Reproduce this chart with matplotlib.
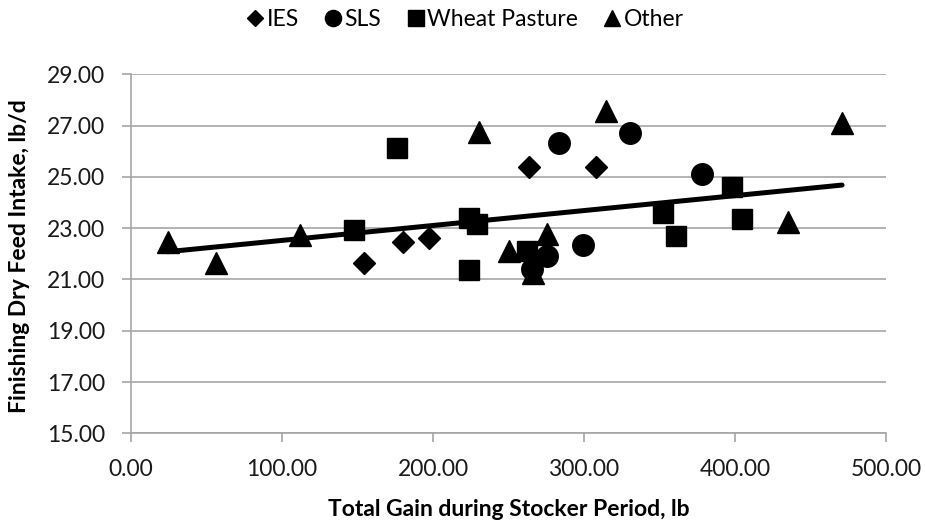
import numpy as np
import matplotlib
matplotlib.use("Agg")
import matplotlib.pyplot as plt

# Total gain during stocker period (lb) and finishing dry feed intake (lb/d)
ies_gain = [154.3, 180.4, 197.4, 263.6, 307.7]
ies_dmi = [21.65, 22.47, 22.60, 25.40, 25.40]

sls_gain = [283.7, 330.5, 378.3, 275.5, 265.5, 299.6]
sls_dmi = [26.31, 26.70, 25.11, 21.93, 21.40, 22.34]

wheat_gain = [147.7, 175.9, 224.1, 229.4, 224.1, 262.2, 352.1, 360.9, 398.2, 404.8]
wheat_dmi = [22.93, 26.12, 23.39, 23.15, 21.37, 22.10, 23.58, 22.71, 24.62, 23.36]

other_gain = [24.2, 56.3, 111.9, 230.5, 250.5, 275.3, 266.5, 314.3, 435.3, 470.9]
other_dmi = [22.47, 21.63, 22.73, 26.76, 22.12, 22.77, 21.27, 27.58, 23.23, 27.11]

# Linear trendline: intake = trend_intercept + trend_slope * gain
trend_slope = 0.00582
trend_intercept = 21.94

x_ticks = [0, 100, 200, 300, 400, 500]
y_ticks = [15, 17, 19, 21, 23, 25, 27, 29]

FONT = "Lato"
plt.rcParams["font.family"] = [FONT, "DejaVu Sans"]

fig = plt.figure(figsize=(9.25, 5.23), dpi=100)
ax = fig.add_axes([131 / 925, 1 - 433.3 / 523, 755 / 925, 359 / 523])

grid_c = "#a6a6a6"
ax.set_xlim(0, 500)
ax.set_ylim(15, 29)
ax.set_xticks(x_ticks)
ax.set_yticks(y_ticks)
ax.set_xticklabels([f"{v:.2f}" for v in x_ticks])
ax.set_yticklabels([f"{v:.2f}" for v in y_ticks])
ax.yaxis.grid(True, color=grid_c, linewidth=1.2)
ax.set_axisbelow(True)
for side in ("top", "right"):
    ax.spines[side].set_visible(False)
for side in ("left", "bottom"):
    ax.spines[side].set_color(grid_c)
    ax.spines[side].set_linewidth(1.2)
ax.tick_params(axis="both", direction="out", length=6.5, width=1.2,
               color=grid_c, labelsize=16.5, labelcolor="#1a1a1a", pad=12)

mk = dict(color="black", linestyle="none", clip_on=False)
ax.plot(ies_gain, ies_dmi, marker="D", markersize=11, label="IES", **mk)
ax.plot(sls_gain, sls_dmi, marker="o", markersize=15.5, label="SLS", **mk)
ax.plot(wheat_gain, wheat_dmi, marker="s", markersize=15, label="Wheat Pasture", **mk)
ax.plot(other_gain, other_dmi, marker="^", markersize=15.5, label="Other", **mk)

# Trendline spans the observed range of gain
all_x = np.array(ies_gain + sls_gain + wheat_gain + other_gain)
xs = np.array([all_x.min(), all_x.max()])
ax.plot(xs, trend_intercept + trend_slope * xs, color="black", linewidth=3.6,
        solid_capstyle="round", zorder=3)

ax.set_xlabel("Total Gain during Stocker Period, lb", fontsize=16.5,
              fontweight="bold", labelpad=14)
fig.text(20 / 925, 1 - 256 / 523, "Finishing Dry Feed Intake, lb/d",
         rotation=90, fontsize=16.5, fontweight="bold", ha="center", va="center")

handles, labels = ax.get_legend_handles_labels()
leg = fig.legend(handles, labels, loc="center", bbox_to_anchor=(466 / 925, 1 - 20 / 523),
                 ncol=4, frameon=False, fontsize=16.5, markerscale=0.75,
                 handlelength=0.6, handletextpad=0.2, columnspacing=1.2)

fig.savefig("out.png", dpi=100)
